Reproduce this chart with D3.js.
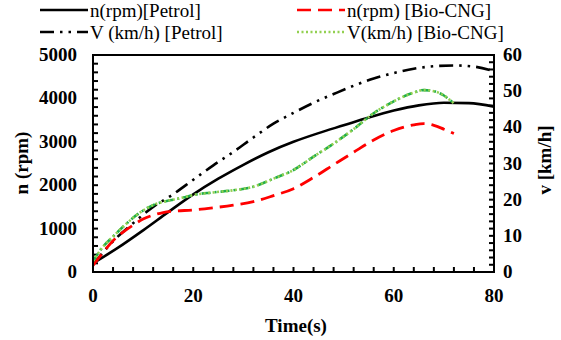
<!DOCTYPE html>
<html>
<head>
<meta charset="utf-8">
<style>
  body { margin: 0; background: #fff; }
  svg { display: block; font-family: "Liberation Serif", "Times New Roman", serif; }
</style>
</head>
<body>
<svg id="chart" width="561" height="340"></svg>
<script src="https://cdn.jsdelivr.net/npm/d3@7"></script>
<script>
// n (rpm), petrol
const nPetrolT = [0, 5, 10, 15, 20, 25, 30, 35, 40, 45, 50, 55, 60, 65, 70, 75, 80];
const nPetrol = [200, 560, 960, 1380, 1790, 2150, 2470, 2760, 3000, 3200, 3380, 3560, 3720, 3840, 3900, 3890, 3810];

// n (rpm), bio-CNG
const nCngT = [0, 2, 4, 6, 8, 10, 12, 14, 16, 20, 24, 28, 32, 36, 40, 44, 48, 52, 56, 60, 64, 66, 68, 70, 72];
const nCng = [150, 450, 720, 920, 1080, 1220, 1310, 1370, 1400, 1430, 1480, 1540, 1620, 1760, 1920, 2180, 2470, 2760, 3040, 3260, 3390, 3420, 3380, 3290, 3190];

// V (km/h), petrol
const vPetrolT = [0, 4, 8, 12, 16, 20, 24, 28, 32, 36, 40, 44, 48, 52, 56, 60, 64, 68, 72, 76, 80];
const vPetrol = [2, 8.5, 13.5, 18, 21.5, 25.5, 29.5, 33.2, 37.2, 41, 44, 46.8, 49.2, 51.5, 53.5, 55, 56.2, 56.9, 57.1, 56.8, 55.5];

// V (km/h), bio-CNG
const vCngT = [0, 2, 4, 6, 8, 10, 12, 14, 16, 18, 20, 24, 28, 32, 36, 40, 44, 48, 52, 56, 60, 64, 66, 68, 70, 72];
const vCng = [3, 7, 9.8, 12.5, 15, 17, 18.5, 19.4, 20, 20.6, 21.3, 22, 22.6, 23.6, 25.8, 28.2, 31.9, 35.5, 39.5, 43.9, 47.2, 49.6, 50.3, 50, 48.8, 46.6];

const xTicks = [0, 20, 40, 60, 80];
const nTicks = [0, 1000, 2000, 3000, 4000, 5000];
const vTicks = [0, 10, 20, 30, 40, 50, 60];

const svg = d3.select("#chart");
const pL = 93, pR = 494, pT = 55, pB = 272;
const fs = 19;

const x = d3.scaleLinear().domain([0, 80]).range([pL, pR]);
const yN = d3.scaleLinear().domain([0, 5000]).range([pB, pT]);
const yV = d3.scaleLinear().domain([0, 60]).range([pB, pT]);

// minor ticks (inside)
const minor = svg.append("g").attr("stroke", "#000").attr("stroke-width", 2);
minor.selectAll(".tl").data(d3.range(0, 5001, 200)).join("line")
  .attr("x1", pL).attr("x2", pL + 5)
  .attr("y1", d => yN(d)).attr("y2", d => yN(d));
minor.selectAll(".tr").data(d3.range(0, 61, 2)).join("line")
  .attr("x1", pR).attr("x2", pR - 5)
  .attr("y1", d => yV(d)).attr("y2", d => yV(d));
minor.selectAll(".tb").data(d3.range(0, 81, 4)).join("line")
  .attr("x1", d => x(d)).attr("x2", d => x(d))
  .attr("y1", pB).attr("y2", pB - 5);

function draw(ts, vs, ys, color, dash, width) {
  const line = d3.line().x((d, i) => x(ts[i])).y(d => ys(d)).curve(d3.curveMonotoneX);
  svg.append("path")
    .attr("d", line(vs))
    .attr("fill", "none")
    .attr("stroke", color)
    .attr("stroke-width", width)
    .attr("stroke-dasharray", dash);
}

draw(nPetrolT, nPetrol, yN, "#000", null, 2.6);
draw(vPetrolT, vPetrol, yV, "#000", "14,6,2.5,6,2.5,6", 2.6);
draw(nCngT, nCng, yN, "#ff0000", "14,7", 2.8);
draw(vCngT, vCng, yV, "#1fae4b", "9,4,2,4", 2.6);
draw(vCngT, vCng, yV, "#92d050", "2,2.5", 2.6);

// frame
svg.append("rect")
  .attr("x", pL).attr("y", pT)
  .attr("width", pR - pL).attr("height", pB - pT)
  .attr("fill", "none").attr("stroke", "#000").attr("stroke-width", 2);

// tick labels
const lab = svg.append("g").attr("font-weight", "bold").attr("font-size", fs).attr("fill", "#000");
lab.selectAll(".xl").data(xTicks).join("text")
  .attr("x", d => x(d)).attr("y", 302).attr("text-anchor", "middle").text(d => d);
lab.selectAll(".nl").data(nTicks).join("text")
  .attr("x", 77).attr("y", d => yN(d) + 6).attr("text-anchor", "end").text(d => d);
lab.selectAll(".vl").data(vTicks).join("text")
  .attr("x", 503).attr("y", d => yV(d) + 6).attr("text-anchor", "start").text(d => d);

// axis titles
svg.append("text").attr("x", 296).attr("y", 332).attr("text-anchor", "middle")
  .attr("font-weight", "bold").attr("font-size", fs).text("Time(s)");
svg.append("text").attr("transform", "translate(28,163) rotate(-90)").attr("text-anchor", "middle")
  .attr("font-weight", "bold").attr("font-size", fs).text("n (rpm)");
svg.append("text").attr("transform", "translate(551,160) rotate(-90)").attr("text-anchor", "middle")
  .attr("font-weight", "bold").attr("font-size", fs).text("v [km/h]");

// legend
const legend = [
  { label: "n(rpm)[Petrol]", color: "#000", dash: null, lx: 40, ly: 10 },
  { label: "n(rpm) [Bio-CNG]", color: "#ff0000", dash: "14,7", lx: 297, ly: 10 },
  { label: "V (km/h) [Petrol]", color: "#000", dash: "14,6,2.5,6,2.5,6", lx: 40, ly: 32 },
  { label: "V(km/h) [Bio-CNG]", color: "#92d050", dash: "2,2.5", lx: 297, ly: 32 }
];
const lg = svg.append("g");
lg.selectAll("line").data(legend).join("line")
  .attr("x1", d => d.lx).attr("x2", d => d.lx + 48)
  .attr("y1", d => d.ly).attr("y2", d => d.ly)
  .attr("stroke", d => d.color).attr("stroke-width", 2.5)
  .attr("stroke-dasharray", d => d.dash);
lg.selectAll("text").data(legend).join("text")
  .attr("x", d => d.lx + 50).attr("y", d => d.ly + 7)
  .attr("font-size", fs).text(d => d.label);
</script>
</body>
</html>
